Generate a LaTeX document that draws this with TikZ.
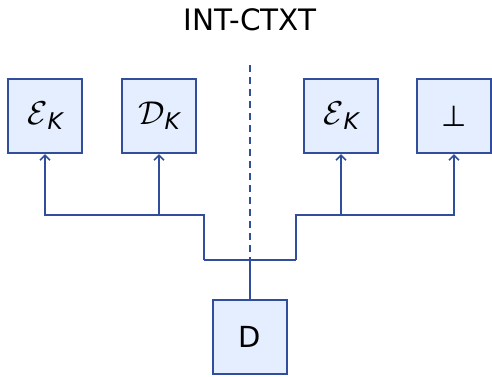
\RequirePackage{fix-cm}
\documentclass[tikz,border=0pt]{standalone}
\usepackage{fontspec}
\setmainfont{DejaVu Sans}
\usetikzlibrary{arrows.meta}
\definecolor{edgeblue}{RGB}{48,78,155}
\definecolor{fillblue}{RGB}{229,238,255}
\newcommand{\calsub}[1]{{\fontsize{33}{38}\selectfont$\mathcal{#1}$\raisebox{-5pt}{\fontsize{23}{26}\selectfont\itshape K}}}
\begin{document}
\begin{tikzpicture}[x=1pt,y=-1pt,
  box/.style={draw=edgeblue,fill=fillblue,line width=2.2pt,minimum width=74pt,minimum height=74pt,inner sep=0pt,font=\fontsize{29}{34}\selectfont},
  wire/.style={draw=edgeblue,line width=2pt},
  tip/.style={-{Straight Barb[length=5pt,width=10pt,line width=1.6pt]}}]
\useasboundingbox (0,0) rectangle (492,376);
\node[font=\fontsize{29.5}{34}\selectfont] (title) at (250,20) {INT-CTXT};
\node[box] (e1) at (45,116) {\calsub{E}};
\node[box] (d1) at (159,116) {\calsub{D}};
\node[box] (e2) at (341,116) {\calsub{E}};
\node[box] (b) at (454,116) {⊥};
\node[box] (d) at (250,337) {D};
\coordinate (top) at (250,65);
\coordinate (j) at (250,260);
\coordinate (jl) at (204,260);
\coordinate (jr) at (296,260);
\coordinate (ml) at (204,215);
\coordinate (mr) at (296,215);
\draw[wire,dash pattern=on 7pt off 5pt] (top) -- (j);
\draw[wire] (d.north) -- (j);
\draw[wire] (jl) -- (jr);
\draw[wire,tip] (jl) -- (ml) -| (e1.south);
\draw[wire,tip] (ml) -| (d1.south);
\draw[wire,tip] (jr) -- (mr) -| (b.south);
\draw[wire,tip] (mr) -| (e2.south);
\end{tikzpicture}
\end{document}
